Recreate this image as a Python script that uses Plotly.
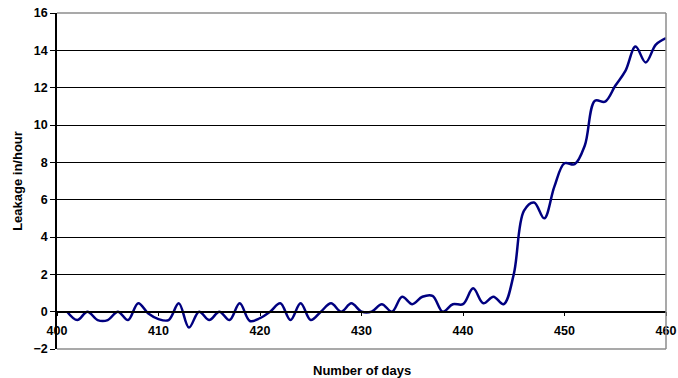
"""Leakage per hour over days, Excel-style smoothed line chart."""

import plotly.graph_objects as go

# Data
days = list(range(401, 461))
leakage = [
    0.0, -0.45, 0.0, -0.45, -0.45, 0.0, -0.45, 0.45, -0.1, -0.4,    # 401-410
    -0.45, 0.45, -0.85, 0.0, -0.45, 0.0, -0.45, 0.45, -0.5, -0.35,  # 411-420
    0.0, 0.45, -0.45, 0.45, -0.45, 0.0, 0.45, 0.0, 0.45, 0.0,       # 421-430
    0.0, 0.4, 0.0, 0.8, 0.4, 0.8, 0.85, 0.0, 0.4, 0.4,              # 431-440
    1.25, 0.45, 0.8, 0.4, 2.0, 5.4, 5.85, 5.0, 6.7, 7.95,           # 441-450
    7.9, 8.9, 11.3, 11.25, 12.1, 12.9, 14.2, 13.35, 14.3, 14.65,    # 451-460
]
x_ticks = [400, 410, 420, 430, 440, 450, 460]
y_ticks = [-2, 0, 2, 4, 6, 8, 10, 12, 14, 16]

Y_MIN, Y_MAX = -2, 16
zero_pos = (0 - Y_MIN) / (Y_MAX - Y_MIN)

FONT = 'Arial, Liberation Sans, sans-serif'
tick_font = dict(family=FONT, size=12.5, color='black', weight='bold')

fig = go.Figure()
fig.add_trace(go.Scatter(
    x=days,
    y=leakage,
    mode='lines',
    line=dict(color='#000080', width=2.5, shape='spline', smoothing=1),
    showlegend=False,
))

fig.update_layout(
    width=678,
    height=378,
    margin=dict(l=57, r=12, t=13, b=29, autoexpand=False),
    plot_bgcolor='white',
    paper_bgcolor='white',
    font=dict(family=FONT, size=13, color='black'),
    xaxis=dict(
        range=[400, 460],
        tickvals=x_ticks,
        ticks='outside',
        ticklen=4,
        tickcolor='black',
        tickfont=tick_font,
        ticklabelstandoff=4,
        ticklabeloverflow='allow',
        showgrid=False,
        zeroline=False,
        showline=True,
        linecolor='black',
        linewidth=1.5,
        anchor='free',
        position=zero_pos,
    ),
    yaxis=dict(
        range=[Y_MIN, Y_MAX],
        tickvals=y_ticks,
        ticks='outside',
        ticklen=5,
        tickcolor='black',
        tickfont=tick_font,
        ticklabeloverflow='allow',
        showgrid=True,
        gridcolor='black',
        gridwidth=1,
        zeroline=False,
        showline=True,
        linecolor='black',
        linewidth=1.5,
        title=dict(text='<b>Leakage in/hour</b>', font=dict(size=13), standoff=8),
    ),
)

# grey plot-area border (top, right, bottom)
for x0, y0, x1, y1 in [(0, 1, 1, 1), (1, 0, 1, 1), (0, 0, 1, 0)]:
    fig.add_shape(type='line', xref='paper', yref='paper',
                  x0=x0, y0=y0, x1=x1, y1=y1,
                  line=dict(color='#8c8c8c', width=1.5), layer='above')

fig.add_annotation(
    text='<b>Number of days</b>',
    xref='paper', yref='paper',
    x=0.5, y=-0.0625,
    xanchor='center', yanchor='middle',
    showarrow=False,
    font=dict(size=13, color='black'),
)

# drop the default body margin so the 678x378 figure fills the window
fig.write_html(
    "out.html",
    config={'displayModeBar': False},
    post_script="document.body.style.margin='0';",
)
